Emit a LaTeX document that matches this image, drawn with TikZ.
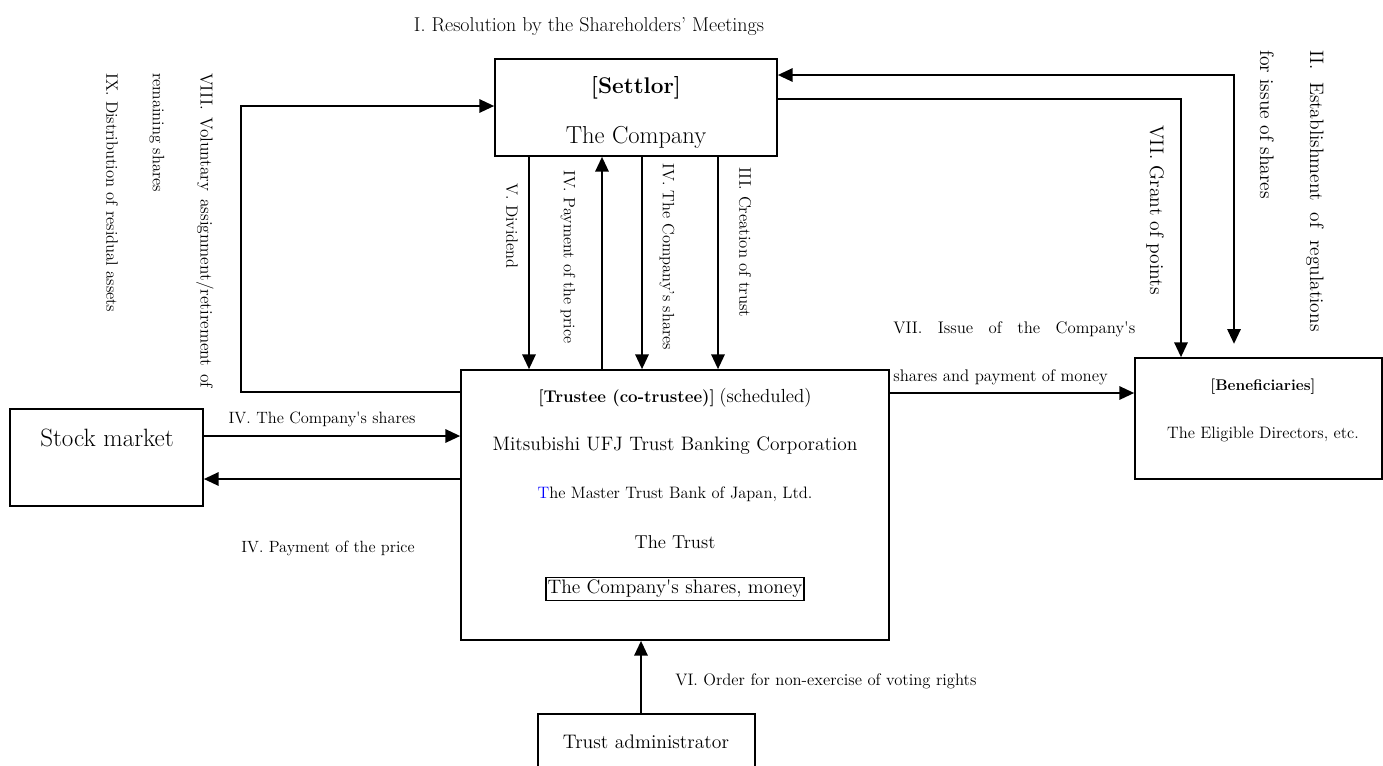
\documentclass[tikz,border=0pt]{standalone}
\usepackage{fontspec}
\usetikzlibrary{arrows.meta,fit}
\newcommand{\fsz}[1]{\fontsize{#1}{#1}\selectfont}
\newcommand{\sq}{\textquotesingle}
\tikzset{
  box/.style={draw, line width=1.3pt, inner sep=0pt},
  arr/.style={line width=1.3pt, -{Triangle[length=11pt,width=10pt]}},
  darr/.style={line width=1.3pt, {Triangle[length=11pt,width=10pt]}-{Triangle[length=11pt,width=10pt]}},
  lbl/.style={inner sep=0pt, text=black},
  vlbl/.style={lbl, rotate=-90, anchor=west},
}
\begin{document}
\begin{tikzpicture}[x=0.75pt,y=-0.75pt]
\clip (0,0) rectangle (1383,765);
\fill[white] (0,0) rectangle (1383,765);

% boxes
\node[box, fit={(495,59) (777,156)}] (settlor) {};
\node[box, fit={(461,370) (889,640)}] (trustee) {};
\node[box, fit={(10,409) (203,506)}] (market) {};
\node[box, fit={(1135,358) (1382,479)}] (benef) {};
\node[box, fit={(538,714) (755,800)}] (admin) {};

% box texts
\node[lbl, font=\fsz{17}\bfseries] (settlorT) at (636,88) {[Settlor]};
\node[lbl, font=\fsz{18.4}] (settlorC) at (636,137) {The Company};
\node[lbl] (trT) at (675,398) {{\fsz{12.7}\bfseries [Trustee (co-trustee)]} {\fsz{14.2}(scheduled)}};
\node[lbl, font=\fsz{14.6}] (trM) at (675,446) {Mitsubishi UFJ Trust Banking Corporation};
\node[lbl, font=\fsz{12.4}] (trJ) at (675,494) {\textcolor{blue}{T}he Master Trust Bank of Japan, Ltd.};
\node[lbl, font=\fsz{14}] (trTr) at (675,542) {The Trust};
\node[draw, line width=1.2pt, inner xsep=1pt, inner ysep=2pt, font=\fsz{14.6}] (trS) at (675,589) {The Company\sq s shares, money};
\node[lbl, font=\fsz{18.8}] (marketT) at (107,438) {Stock market};
\node[lbl, font=\fsz{11.6}\bfseries] (benT) at (1263,387) {[Beneficiaries]};
\node[lbl, font=\fsz{12.4}] (benD) at (1263,434) {The Eligible Directors, etc.};
\node[lbl, font=\fsz{14.7}] (adminT) at (646,742) {Trust administrator};

% horizontal labels
\node[lbl, font=\fsz{15}] (l1) at (589,27) {I. Resolution by the Shareholders' Meetings};
\node[lbl, font=\fsz{12.3}] (l4a) at (322,419) {IV. The Company\sq s shares};
\node[lbl, font=\fsz{12.2}] (l4b) at (328,548) {IV. Payment of the price};
\node[lbl, font=\fsz{12.6}, anchor=west] (l7a) at (893,329) {\makebox[181.5pt][s]{VII.\hfill Issue\hfill of\hfill the\hfill Company\sq s}};
\node[lbl, font=\fsz{12.6}, anchor=west] (l7b) at (893,377) {shares and payment of money};
\node[lbl, font=\fsz{12.5}, anchor=west] (l6) at (675,681) {VI. Order for non-exercise of voting rights};

% vertical labels
\node[vlbl, font=\fsz{13}] (l8a) at (205,73) {\makebox[236pt][s]{VIII.\hfill Voluntary\hfill assignment/retirement\hfill of}};
\node[vlbl, font=\fsz{12.4}] (l8b) at (157,73) {remaining shares};
\node[vlbl, font=\fsz{12.4}] (l9) at (112,73) {IX. Distribution of residual assets};
\node[vlbl, font=\fsz{12.3}] (l5) at (512,183) {V. Dividend};
\node[vlbl, font=\fsz{12.2}] (l4c) at (568,170) {IV. Payment of the price};
\node[vlbl, font=\fsz{12.3}] (l4d) at (667,163) {IV. The Company's shares};
\node[vlbl, font=\fsz{12.6}] (l3) at (745,167) {III. Creation of trust};
\node[vlbl, font=\fsz{14.7}] (l7c) at (1155,125) {VII. Grant of points};
\node[vlbl, font=\fsz{14.6}] (l2a) at (1315,50) {\makebox[211pt][s]{II.\hfill Establishment\hfill of\hfill regulations}};
\node[vlbl, font=\fsz{14.7}] (l2b) at (1267,50) {for issue of shares};

% connectors
\draw[arr] (trustee.west |- 0,392) -- (241,392) |- (settlor.west |- 0,106);
\draw[arr] (settlor.south -| 529,0) -- (trustee.north -| 529,0);
\draw[arr] (trustee.north -| 602,0) -- (settlor.south -| 602,0);
\draw[arr] (settlor.south -| 642,0) -- (trustee.north -| 642,0);
\draw[arr] (settlor.south -| 718,0) -- (trustee.north -| 718,0);
\draw[arr] (settlor.east |- 0,99) -| (benef.north -| 1181,0);
\draw[darr, shorten >=10pt] (settlor.east |- 0,75) -| (benef.north -| 1234,0);
\draw[arr] (trustee.east |- 0,393) -- (benef.west |- 0,393);
\draw[arr] (market.east |- 0,436) -- (trustee.west |- 0,436);
\draw[arr] (trustee.west |- 0,479) -- (market.east |- 0,479);
\draw[arr] (admin.north -| 641,0) -- (trustee.south -| 641,0);
\end{tikzpicture}
\end{document}
